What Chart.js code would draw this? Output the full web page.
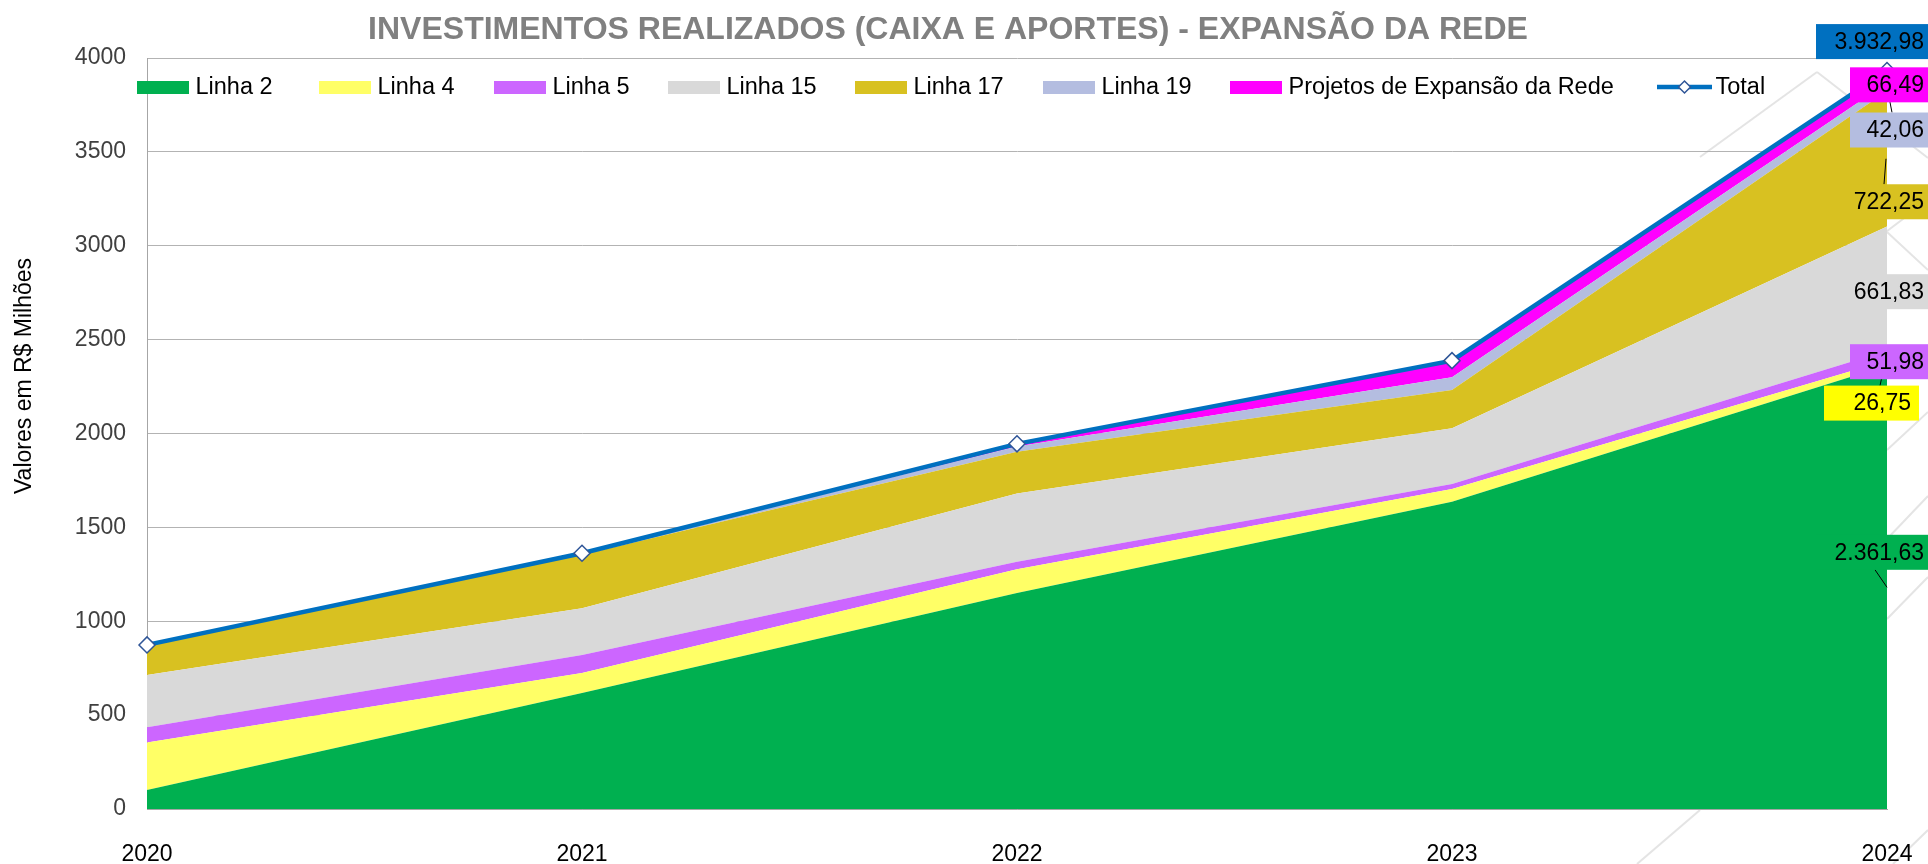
<!DOCTYPE html>
<html>
<head>
<meta charset="utf-8">
<script src="https://cdn.jsdelivr.net/npm/chart.js@4.4.1/dist/chart.umd.min.js"></script>
<style>
  body { margin: 0; background: #fff; }
  canvas { display: block; }
</style>
</head>
<body>
<canvas id="chart" width="1928" height="864"></canvas>
<script>
// valores em R$ milhões (2024 conforme rótulos)
const anos = ['2020', '2021', '2022', '2023', '2024'];
const linha2 = [101, 618, 1150, 1637, 2361.63];
const linha4 = [253, 107, 127, 67, 26.75];
const linha5 = [81, 95, 40, 27, 51.98];
const linha15 = [279, 249, 364, 297, 661.83];
const linha17 = [160, 285, 222, 204, 722.25];
const linha19 = [0, 5, 28, 67, 42.06];
const projetos = [0, 3, 14, 89, 66.49];
const total = [874, 1362, 1945, 2388, 3932.98];
const yMin = 0, yMax = 4000, yStep = 500;

const fonte = "'Liberation Sans', Arial, sans-serif";

// número no formato 3.932,98
function fmt(v) {
    const partes = v.toFixed(2).split('.');
    const inteiro = partes[0].replace(/\B(?=(\d{3})+(?!\d))/g, '.');
    return inteiro + ',' + partes[1];
}

function area(label, data, cor, caixa) {
    return {
        label: label,
        data: data,
        backgroundColor: cor,
        borderColor: 'rgba(0,0,0,0)',
        borderWidth: 0,
        pointRadius: 0,
        fill: label === 'Linha 2' ? 'origin' : '-1',
        stack: 'rede',
        caixa: caixa
    };
}

// rótulos de 2024: dy relativo ao meio da faixa, bordas relativas à direita da área
const rotulos = [
    { dy: -35, left: -71, textR: 37, lead: [-12, 0] },
    { dy: 40, left: -63, textR: 24, lead: [-7, -2] },
    { dy: 6, left: -37, textR: 37 },
    { dy: 3, left: -38, textR: 37 },
    { dy: 43, left: -37, textR: 37, lead: [-3, -1] },
    { dy: 43, left: -37, textR: 37, lead: [5, 0] },
    { dy: 8, left: -37, textR: 37 },
    { dy: -29, left: -71, textR: 37 }
];

const legendaX = [137, 319, 494, 668, 855, 1043, 1230, 1657];

const fundo = {
    id: 'fundo',
    beforeDraw(chart) {
        const ctx = chart.ctx;
        ctx.save();
        ctx.fillStyle = '#fff';
        ctx.fillRect(0, 0, chart.width, chart.height);
        // marca d'água de linhas diagonais
        ctx.strokeStyle = '#e4e4e4';
        ctx.lineWidth = 2;
        const seg = [
            [1700, 157, 1817, 72], [1817, 72, 1928, 158],
            [1870, 244, 1928, 200], [1887, 232, 1928, 270],
            [1887, 450, 1928, 412], [1887, 539, 1928, 496],
            [1887, 619, 1928, 577], [1637, 864, 1700, 810],
            [1893, 864, 1928, 830]
        ];
        seg.forEach(s => {
            ctx.beginPath();
            ctx.moveTo(s[0], s[1]);
            ctx.lineTo(s[2], s[3]);
            ctx.stroke();
        });
        ctx.restore();
    }
};

const extras = {
    id: 'extras',
    afterDraw(chart) {
        const ctx = chart.ctx;
        const y = chart.scales.y;
        const ds = chart.data.datasets;
        const ult = anos.length - 1;
        ctx.save();

        // título
        ctx.fillStyle = '#808080';
        ctx.font = 'bold 32px ' + fonte;
        ctx.textAlign = 'center';
        ctx.textBaseline = 'alphabetic';
        ctx.fillText('INVESTIMENTOS REALIZADOS (CAIXA E APORTES) - EXPANSÃO DA REDE', 948, 39);

        // título do eixo y
        ctx.save();
        ctx.translate(25, 376);
        ctx.rotate(-Math.PI / 2);
        ctx.fillStyle = '#000';
        ctx.font = '23px ' + fonte;
        ctx.textAlign = 'center';
        ctx.textBaseline = 'middle';
        ctx.fillText('Valores em R$ Milhões', 0, 0);
        ctx.restore();

        // legenda
        ctx.font = '23.5px ' + fonte;
        ctx.textAlign = 'left';
        ctx.textBaseline = 'middle';
        ds.forEach((d, i) => {
            const x = legendaX[i];
            if (d.fill === false) {
                ctx.strokeStyle = d.borderColor;
                ctx.lineWidth = 4.5;
                ctx.beginPath();
                ctx.moveTo(x, 87);
                ctx.lineTo(x + 55, 87);
                ctx.stroke();
                ctx.fillStyle = '#fff';
                ctx.strokeStyle = d.pointBorderColor;
                ctx.lineWidth = 1.5;
                ctx.beginPath();
                ctx.moveTo(x + 21.5, 87);
                ctx.lineTo(x + 27.5, 81);
                ctx.lineTo(x + 33.5, 87);
                ctx.lineTo(x + 27.5, 93);
                ctx.closePath();
                ctx.fill();
                ctx.stroke();
            } else {
                ctx.fillStyle = d.backgroundColor;
                ctx.fillRect(x, 81, 52, 13);
            }
            ctx.fillStyle = '#000';
            ctx.fillText(d.label, x + 58.5, 88);
        });

        // rótulos dos valores de 2024
        const itens = ds.map((d, i) => {
            const pt = chart.getDatasetMeta(i).data[ult];
            let meio = pt.y;
            if (d.fill !== false) {
                const base = i === 0 ? y.getPixelForValue(0) : chart.getDatasetMeta(i - 1).data[ult].y;
                meio = (pt.y + base) / 2;
            }
            return { d: d, x: pt.x, meio: meio, r: rotulos[i] };
        });

        ctx.strokeStyle = '#000';
        ctx.lineWidth = 1;
        itens.forEach(it => {
            if (!it.r.lead) return;
            const cy = it.meio + it.r.dy;
            const borda = it.r.dy > 0 ? cy - 17.5 : cy + 17.5;
            ctx.beginPath();
            ctx.moveTo(it.x + it.r.lead[0], borda);
            ctx.lineTo(it.x + it.r.lead[1], it.meio);
            ctx.stroke();
        });

        ctx.font = '23px ' + fonte;
        ctx.textAlign = 'right';
        ctx.textBaseline = 'middle';
        itens.forEach(it => {
            const cy = it.meio + it.r.dy;
            const esq = it.x + it.r.left;
            const dir = it.x + it.r.textR;
            ctx.fillStyle = it.d.caixa;
            ctx.fillRect(esq, cy - 17.5, dir + 8 - esq, 35);
            ctx.fillStyle = '#000';
            ctx.fillText(fmt(it.d.data[ult]), dir, cy + 1);
        });

        ctx.restore();
    }
};

new Chart(document.getElementById('chart'), {
    type: 'line',
    data: {
        labels: anos,
        datasets: [
            area('Linha 2', linha2, '#00B050', '#00B050'),
            area('Linha 4', linha4, '#FFFF66', '#FFFF00'),
            area('Linha 5', linha5, '#CC66FF', '#CC66FF'),
            area('Linha 15', linha15, '#D9D9D9', '#D9D9D9'),
            area('Linha 17', linha17, '#D8C121', '#D8C121'),
            area('Linha 19', linha19, '#B4BDE0', '#B4BDE0'),
            area('Projetos de Expansão da Rede', projetos, '#FF00FF', '#FF00FF'),
            {
                type: 'line',
                label: 'Total',
                data: total,
                stack: 'total',
                fill: false,
                order: -1,
                clip: false,
                borderColor: '#0070C0',
                borderWidth: 4.5,
                pointStyle: 'rectRot',
                pointRadius: 8,
                pointBackgroundColor: '#fff',
                pointBorderColor: '#2F5597',
                pointBorderWidth: 1.5,
                caixa: '#0070C0'
            }
        ]
    },
    options: {
        responsive: false,
        animation: false,
        layout: { padding: { left: 0, right: 41, top: 58, bottom: 0 } },
        plugins: {
            legend: { display: false },
            title: { display: false },
            tooltip: { enabled: false }
        },
        elements: { line: { tension: 0 } },
        scales: {
            x: {
                offset: false,
                grid: { display: false, drawTicks: false },
                border: { display: true, color: '#a6a6a6', width: 1 },
                ticks: { color: '#000', font: { family: fonte, size: 23 }, padding: 32, maxRotation: 0 },
                afterFit: s => { s.height = 55; s.paddingLeft = 0; s.paddingRight = 0; }
            },
            y: {
                stacked: true,
                min: yMin,
                max: yMax,
                grid: { color: '#b3b3b3', drawTicks: false },
                border: { display: true, color: '#a6a6a6', width: 1 },
                ticks: {
                    stepSize: yStep,
                    color: '#404040',
                    font: { family: fonte, size: 23 },
                    padding: 21,
                    callback: v => String(v)
                },
                afterFit: s => { s.width = 147; }
            }
        }
    },
    plugins: [fundo, extras]
});
</script>
</body>
</html>
